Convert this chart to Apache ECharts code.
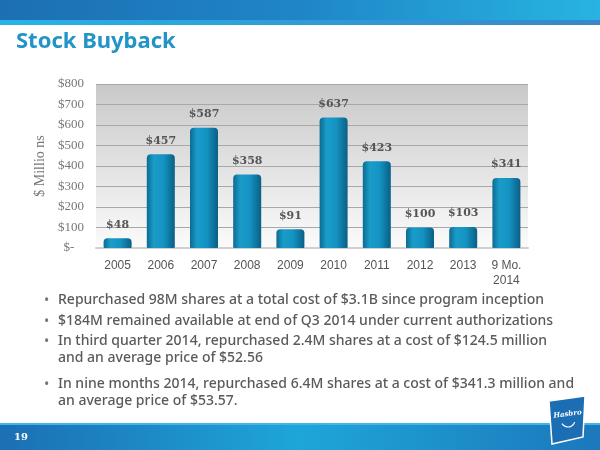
<!DOCTYPE html>
<html><head><meta charset="utf-8">
<script src="https://cdn.jsdelivr.net/npm/echarts@6/dist/echarts.min.js"></script>
<style>html,body{margin:0;padding:0;background:#fff}#c{width:600px;height:450px}</style>
</head><body><div id="c"></div>
<script>
const categories = ['2005','2006','2007','2008','2009','2010','2011','2012','2013','9 Mo.\n2014'];
const buyback = [48,457,587,358,91,637,423,100,103,341];
const yTicks = [0,100,200,300,400,500,600,700,800];
const bullets = [
  ['Repurchased 98M shares at a total cost of $3.1B since program inception'],
  ['$184M remained available at end of Q3 2014 under current authorizations'],
  ['In third quarter 2014, repurchased 2.4M shares at a cost of $124.5 million','and an average price of $52.56'],
  ['In nine months 2014, repurchased 6.4M shares at a cost of $341.3 million and','an average price of $53.57.']
];

const chart = echarts.init(document.getElementById('c'));
const sans = '"Noto Sans", "Open Sans", sans-serif';
const bulletGraphics = [];
const lineYs = [[302],[323],[343,360],[386,403]];
bullets.forEach((b,i)=>{
  bulletGraphics.push({type:'text', left:44, top:lineYs[i][0]-8, style:{text:'•', fill:'#777', font:'14px '+sans}});
  b.forEach((t,j)=>{
    bulletGraphics.push({type:'text', left:58, top:lineYs[i][j]-9, style:{text:t, fill:'#5a5a5a', font:'500 14px '+sans}});
  });
});

chart.setOption({
  animation:false,
  graphic:[
    {type:'rect', shape:{x:0,y:0,width:600,height:21}, style:{fill:{type:'linear',x:0,y:0,x2:1,y2:0,colorStops:[{offset:0,color:'#1c6fb3'},{offset:0.5,color:'#1f86c6'},{offset:1,color:'#27b4e2'}]}}},
    {type:'rect', shape:{x:0,y:20,width:600,height:5}, style:{fill:{type:'linear',x:0,y:0,x2:1,y2:0,colorStops:[{offset:0,color:'#27b3e6'},{offset:1,color:'#3a86c8'}]}}},
    {type:'text', left:16, top:31, style:{text:'Stock Buyback', fill:'#2394c6', font:'bold 22px '+sans}},
    {type:'rect', shape:{x:0,y:424,width:600,height:26}, style:{fill:{type:'linear',x:0,y:0,x2:1,y2:0,colorStops:[{offset:0,color:'#1c6fb3'},{offset:0.5,color:'#1ea6d8'},{offset:1,color:'#1c78bb'}]}}},
    {type:'rect', shape:{x:0,y:423,width:600,height:2}, style:{fill:'#3fb6e6'}},
    {type:'text', left:14, top:432, style:{text:'19', fill:'#fff', font:'bold 10px "DejaVu Serif", serif'}},
    {type:'polygon', shape:{points:[[549,401],[585,396],[583,437],[552,444]]}, style:{fill:'#1b6db4', stroke:'#fff', lineWidth:1.5}},
    {type:'text', left:553, top:409, rotation:0.12, style:{text:'Hasbro', fill:'#fff', font:'italic bold 7px "DejaVu Serif", serif'}},
    {type:'arc', shape:{cx:568, cy:420, r:7, startAngle:0.3, endAngle:2.6}, style:{stroke:'#fff', lineWidth:1.2, fill:null}},
    ...bulletGraphics
  ],
  grid:{left:96, right:72, top:84, bottom:202, show:true, borderWidth:0,
    backgroundColor:{type:'linear',x:0,y:0,x2:0,y2:1,colorStops:[{offset:0,color:'#c9c9c9'},{offset:1,color:'#fbfbfb'}]}},
  xAxis:{type:'category', data:categories,
    axisLine:{lineStyle:{color:'#d0d0d0', width:2}}, axisTick:{show:false},
    axisLabel:{color:'#555', fontFamily:'"Liberation Sans", Arial, sans-serif', fontSize:12, margin:10, lineHeight:15}},
  yAxis:{type:'value', min:0, max:800, interval:100,
    name:'$ Millio ns', nameLocation:'middle', nameGap:44, nameRotate:90,
    nameTextStyle:{color:'#777', fontFamily:'"Liberation Serif", "Times New Roman", serif', fontSize:14},
    axisLine:{show:false}, axisTick:{show:false},
    splitLine:{lineStyle:{color:'#a8a8a8', width:1}},
    axisLabel:{color:'#777', fontFamily:'"Liberation Serif", "Times New Roman", serif', fontSize:13, margin:12,
      formatter:v=> v===0 ? '$-   ' : '$'+v}},
  series:[{type:'bar', data:buyback, barWidth:28,
    itemStyle:{borderRadius:[4,4,1,1],
      color:{type:'linear',x:0,y:0,x2:1,y2:0,colorStops:[{offset:0,color:'#0b6b93'},{offset:0.25,color:'#1a9cc8'},{offset:0.6,color:'#1493c2'},{offset:1,color:'#0a5f85'}]}},
    label:{show:true, position:'top', distance:8, formatter:p=>'$'+p.value,
      color:'#555', fontFamily:'"DejaVu Serif", serif', fontWeight:'bold', fontSize:11}}]
});
</script></body></html>
